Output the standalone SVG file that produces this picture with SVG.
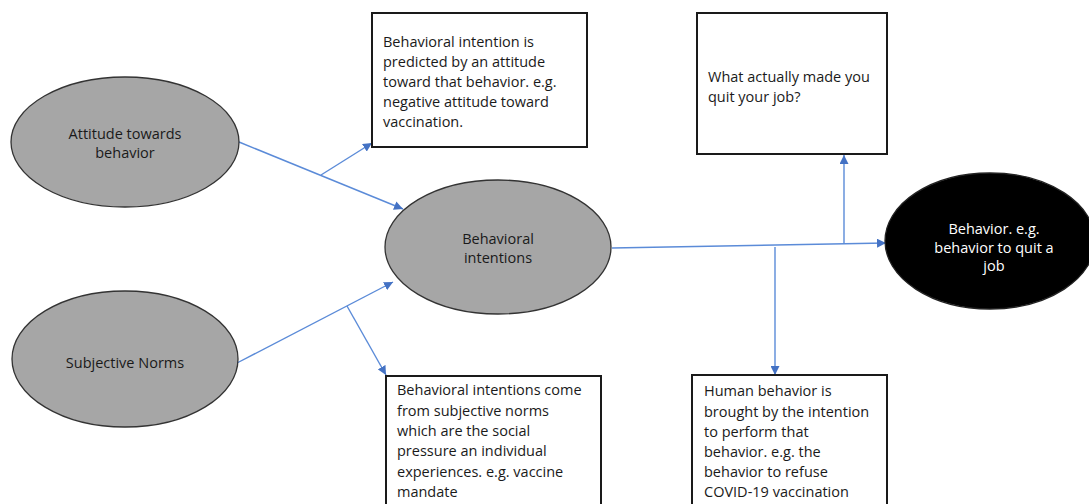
<svg xmlns="http://www.w3.org/2000/svg" width="1089" height="504" viewBox="0 0 1089 504">
<defs>
<style>
.ell{fill:#a6a6a6;stroke:#333;stroke-width:1.3}
.box{fill:#fff;stroke:#1a1a1a;stroke-width:2}
.t{font-family:"Open Sans",Lato,sans-serif;font-size:14.5px;fill:#1a1a1a}
.tw{font-family:"Open Sans",Lato,sans-serif;font-size:14.5px;fill:#fff}
.c{stroke:#5b8bd8;stroke-width:1.4;fill:none}
</style>
<marker id="ah" viewBox="0 0 10 10" refX="10" refY="5" markerWidth="9" markerHeight="9" markerUnits="userSpaceOnUse" orient="auto"><path d="M0,0 L10,5 L0,10 z" fill="#4472c4"/></marker>
</defs>
<rect width="1089" height="504" fill="#fff"/>
<g id="connectors">
<line class="c" x1="239" y1="142" x2="403" y2="209" marker-end="url(#ah)"/>
<line class="c" x1="321" y1="175" x2="372" y2="143" marker-end="url(#ah)"/>
<line class="c" x1="237" y1="363" x2="393" y2="282" marker-end="url(#ah)"/>
<line class="c" x1="347" y1="306" x2="386" y2="375" marker-end="url(#ah)"/>
<line class="c" x1="612" y1="248" x2="886" y2="243" marker-end="url(#ah)"/>
<line class="c" x1="844" y1="243" x2="844" y2="155" marker-end="url(#ah)"/>
<line class="c" x1="775" y1="247" x2="775" y2="375" marker-end="url(#ah)"/>
</g>
<g id="attitude">
<ellipse class="ell" cx="125" cy="142" rx="114" ry="65"/>
<text class="t" text-anchor="middle"><tspan x="125" y="139">Attitude towards</tspan><tspan x="125" y="158">behavior</tspan></text>
</g>
<g id="norms">
<ellipse class="ell" cx="125" cy="359" rx="113" ry="68"/>
<text class="t" text-anchor="middle" x="125" y="368">Subjective Norms</text>
</g>
<g id="intentions">
<ellipse class="ell" cx="498" cy="247" rx="113" ry="67"/>
<text class="t" text-anchor="middle"><tspan x="498" y="244">Behavioral</tspan><tspan x="498" y="263">intentions</tspan></text>
</g>
<g id="behavior">
<ellipse cx="990" cy="241" rx="105" ry="68" fill="#000" stroke="#222" stroke-width="1.3"/>
<text class="tw" text-anchor="middle"><tspan x="994" y="234">Behavior. e.g.</tspan><tspan x="994" y="253">behavior to quit a</tspan><tspan x="994" y="271">job</tspan></text>
</g>
<g id="box-attitude">
<rect class="box" x="372" y="13" width="215" height="134"/>
<text class="t"><tspan x="383" y="47">Behavioral intention is</tspan><tspan x="383" y="67">predicted by an attitude</tspan><tspan x="383" y="87">toward that behavior. e.g.</tspan><tspan x="383" y="107">negative attitude toward</tspan><tspan x="383" y="127">vaccination.</tspan></text>
</g>
<g id="box-norms">
<rect class="box" x="386" y="376" width="215" height="140"/>
<text class="t"><tspan x="397" y="395">Behavioral intentions come</tspan><tspan x="397" y="415.5">from subjective norms</tspan><tspan x="397" y="436">which are the social</tspan><tspan x="397" y="456">pressure an individual</tspan><tspan x="397" y="476.5">experiences. e.g. vaccine</tspan><tspan x="397" y="497">mandate</tspan></text>
</g>
<g id="box-quit">
<rect class="box" x="697" y="13" width="190" height="141"/>
<text class="t"><tspan x="708" y="82">What actually made you</tspan><tspan x="708" y="102">quit your job?</tspan></text>
</g>
<g id="box-human">
<rect class="box" x="692" y="375" width="195" height="140"/>
<text class="t"><tspan x="704" y="396">Human behavior is</tspan><tspan x="704" y="416.5">brought by the intention</tspan><tspan x="704" y="437">to perform that</tspan><tspan x="704" y="457">behavior. e.g. the</tspan><tspan x="704" y="477">behavior to refuse</tspan><tspan x="704" y="497">COVID-19 vaccination</tspan></text>
</g>
</svg>
